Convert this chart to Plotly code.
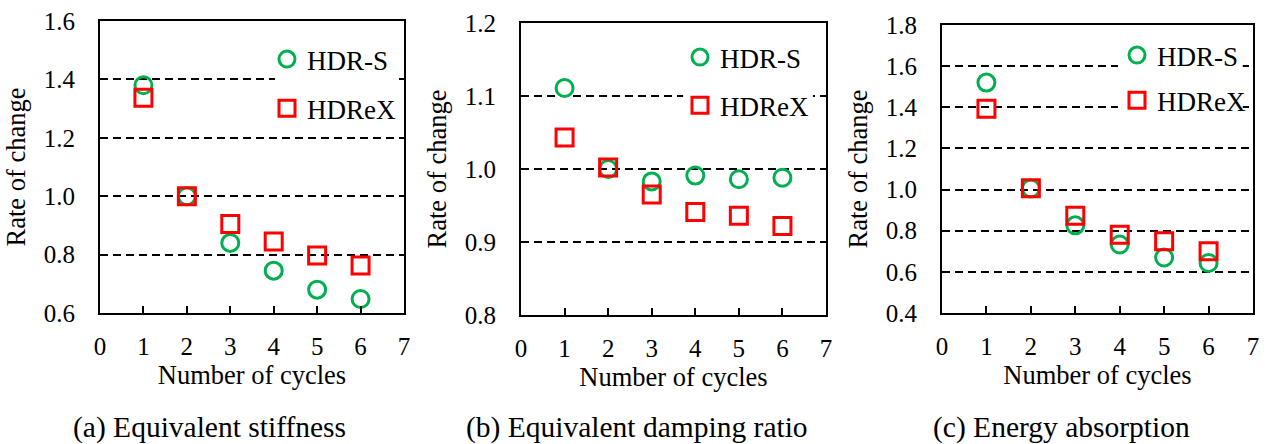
import plotly.graph_objects as go

cycles = [1, 2, 3, 4, 5, 6]
stiff_hdrs = [1.38, 1.00, 0.84, 0.745, 0.68, 0.648]
stiff_hdrex = [1.337, 1.00, 0.905, 0.845, 0.797, 0.763]
damp_hdrs = [1.111, 1.000, 0.983, 0.991, 0.986, 0.988]
damp_hdrex = [1.043, 1.002, 0.965, 0.941, 0.936, 0.922]
energy_hdrs = [1.52, 1.005, 0.826, 0.733, 0.670, 0.643]
energy_hdrex = [1.393, 1.007, 0.873, 0.780, 0.749, 0.700]

series_names = ["HDR-S", "HDReX"]
captions = ["(a) Equivalent stiffness", "(b) Equivalent damping ratio", "(c) Energy absorption"]
y_ranges = [[0.6, 1.6], [0.8, 1.2], [0.4, 1.8]]
y_dticks = [0.2, 0.1, 0.2]
x_title = "Number of cycles"
y_title = "Rate of change"

GREEN = "#00B050"
RED = "#FF0000"
FONT = "Liberation Serif"
W, H = 1267, 444

panels = [(stiff_hdrs, stiff_hdrex), (damp_hdrs, damp_hdrex), (energy_hdrs, energy_hdrex)]
x_px = [(100, 404), (521, 826), (942, 1253)]
y_px = [(21, 313), (23, 315), (25, 313)]
legend_pos = [(267, 35), (680, 33), (1117, 31)]
legend_gap = [11, 10, 7]
# white legend background boxes (data coords of each panel): x0, x1, y0, y1
legend_bg = [(4.03, 6.84, 1.30, 1.50), (3.72, 6.70, 1.05, 1.16), (3.96, 6.77, 1.30, 1.70)]
caption_x = [209, 637, 1061]

fig = go.Figure()
for i, (s1, s2) in enumerate(panels):
    sfx = "" if i == 0 else str(i + 1)
    leg = "legend" if i == 0 else "legend" + str(i + 1)
    fig.add_trace(go.Scatter(
        x=cycles, y=s1, mode="markers", name=series_names[0],
        xaxis="x" + sfx, yaxis="y" + sfx, legend=leg, legendgroup="a" + str(i),
        marker=dict(symbol="circle-open", size=17, color=GREEN, line=dict(width=3, color=GREEN)),
    ))
    fig.add_trace(go.Scatter(
        x=cycles, y=s2, mode="markers", name=series_names[1],
        xaxis="x" + sfx, yaxis="y" + sfx, legend=leg, legendgroup="b" + str(i),
        marker=dict(symbol="square-open", size=17, color=RED, line=dict(width=3, color=RED)),
    ))

layout = dict(
    width=W, height=H, margin=dict(l=0, r=0, t=0, b=0, autoexpand=False),
    paper_bgcolor="white", plot_bgcolor="white",
    font=dict(family=FONT, size=25, color="black"),
    showlegend=True,
)
for i in range(3):
    sfx = "" if i == 0 else str(i + 1)
    x0, x1 = x_px[i]
    yt, yb = y_px[i]
    layout["xaxis" + sfx] = dict(
        domain=[x0 / W, x1 / W], anchor="y" + sfx, range=[0, 7], dtick=1, tick0=0,
        showgrid=False, zeroline=False, showline=True, linecolor="black", linewidth=2, mirror=True,
        ticks="inside", ticklen=7, tickwidth=2, tickcolor="black", ticklabelstandoff=10,
        tickfont=dict(size=25, family=FONT), automargin=False,
        title=dict(text=x_title, font=dict(size=26.5, family=FONT), standoff=6),
        fixedrange=True,
    )
    layout["yaxis" + sfx] = dict(
        domain=[1 - yb / H, 1 - yt / H], anchor="x" + sfx, range=y_ranges[i], dtick=y_dticks[i],
        tick0=0, tickformat=".1f",
        showgrid=True, gridcolor="black", gridwidth=2, griddash="8px,5px",
        zeroline=False, showline=True, linecolor="black", linewidth=2, mirror=True,
        ticks="", ticklabelstandoff=18, tickfont=dict(size=25, family=FONT), automargin=False,
        title=dict(text=y_title, font=dict(size=26.5, family=FONT), standoff=10),
        fixedrange=True,
    )
    lx, ly = legend_pos[i]
    layout["legend" if i == 0 else "legend" + str(i + 1)] = dict(
        x=lx / W, y=1 - ly / H, xanchor="left", yanchor="top",
        bgcolor="rgba(0,0,0,0)", borderwidth=0, traceorder="grouped", tracegroupgap=legend_gap[i],
        font=dict(size=27, family=FONT, color="black"), itemwidth=30,
    )

fig.update_layout(**layout)
for i in range(3):
    sfx = "" if i == 0 else str(i + 1)
    bx0, bx1, by0, by1 = legend_bg[i]
    fig.add_shape(type="rect", xref="x" + sfx, yref="y" + sfx, x0=bx0, x1=bx1, y0=by0, y1=by1,
                  fillcolor="white", line=dict(width=0), layer="between")
    fig.add_annotation(
        text=captions[i], xref="paper", yref="paper", x=caption_x[i] / W, y=1 - 427 / H,
        xanchor="center", yanchor="middle", showarrow=False,
        font=dict(size=29.5, family=FONT, color="black"),
    )

fig.write_html("out.html")
